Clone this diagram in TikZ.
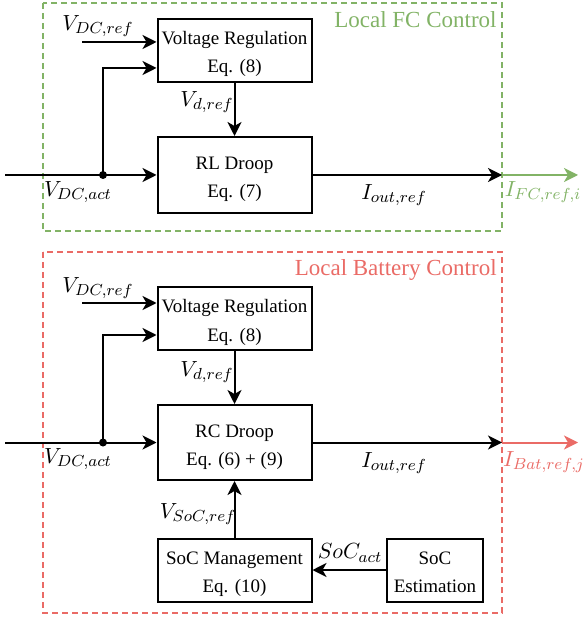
\documentclass[tikz,border=0pt]{standalone}
\usepackage{fontspec}
\setmainfont{Liberation Serif}
\usetikzlibrary{arrows.meta}
\definecolor{fcgreen}{HTML}{82B366}
\definecolor{batred}{HTML}{EA6B66}

\begin{document}
\begin{tikzpicture}[x=0.5pt, y=-0.5pt, align=center,
    blk/.style={draw, line width=1pt, minimum width=77pt, minimum height=31.5pt, inner sep=1pt,
      text height=25pt, text depth=2.5pt, font=\fontsize{9.5}{14}\selectfont},
    arr/.style={-{Stealth[length=7pt, width=7pt, inset=2pt]}, line width=1pt},
    lbl/.style={font=\fontsize{11}{13}\selectfont, inner sep=0pt},
    title/.style={font=\fontsize{11.5}{14}\selectfont, inner sep=0pt},
    region/.style={dash pattern=on 3pt off 2pt, line width=0.75pt}]
      \useasboundingbox (0,0) rectangle (582,619);

      % fuel cell part
      \draw[region, fcgreen] (43,3) rectangle (502,231);
      \node[title, text=fcgreen, anchor=east] (fctitle) at (497,20) {Local FC Control};

      \node[blk] (vreg1) at (234.5,50.5) {Voltage Regulation\\ Eq. (8)};
      \node[blk, minimum height=38pt] (droop1) at (234.5,175) {RL Droop\\ Eq. (7)};

      \coordinate (ref1) at (82,42);
      \coordinate (in1) at (5,175);
      \coordinate (dot1) at (103,175);
      \coordinate (out1) at (502,175);
      \coordinate (end1) at (578,175);

      \draw[arr] (ref1) -- (ref1 -| vreg1.west);
      \draw[line width=1pt] (in1) -- (dot1);
      \draw[arr] (dot1) -- (droop1.west);
      \draw[arr] (dot1) |- (vreg1.west |- 0,68);
      \fill (dot1) circle (4);
      \draw[arr] (vreg1) -- (droop1);
      \draw[arr] (droop1.east) -- (out1);
      \draw[arr, fcgreen] (out1) -- (end1);

      \node[lbl] (vdcref1) at (98,26) {$V_{DC,ref}$};
      \node[lbl] (vdcact1) at (78,192) {$V_{DC,act}$};
      \node[lbl] (vdref1) at (207,102) {$V_{d,ref}$};
      \node[lbl] (iout1) at (394,195) {$I_{out,ref}$};
      \node[lbl, text=fcgreen] (ifc) at (543,192) {$I_{FC,ref,i}$};

      % battery part
      \draw[region, batred] (43,252) rectangle (502,613);
      \node[title, text=batred, anchor=east] (battitle) at (497,270) {Local Battery Control};

      \node[blk] (vreg2) at (234.5,318.5) {Voltage Regulation\\ Eq. (8)};
      \node[blk, minimum height=37.5pt] (droop2) at (234.5,442.5) {RC Droop\\ Eq. (6) + (9)};
      \node[blk] (socm) at (234.5,570) {SoC Management\\ Eq. (10)};
      \node[blk, minimum width=48pt] (soce) at (435,570) {SoC\\ Estimation};

      \coordinate (ref2) at (82,303);
      \coordinate (in2) at (5,442.5);
      \coordinate (dot2) at (103,442.5);
      \coordinate (out2) at (502,442.5);
      \coordinate (end2) at (578,442.5);

      \draw[arr] (ref2) -- (ref2 -| vreg2.west);
      \draw[line width=1pt] (in2) -- (dot2);
      \draw[arr] (dot2) -- (droop2.west);
      \draw[arr] (dot2) |- (vreg2.west |- 0,335);
      \fill (dot2) circle (4);
      \draw[arr] (vreg2) -- (droop2);
      \draw[arr] (droop2.east) -- (out2);
      \draw[arr, batred] (out2) -- (end2);
      \draw[arr] (socm) -- (droop2);
      \draw[arr] (soce) -- (socm);

      \node[lbl] (vdcref2) at (98,288) {$V_{DC,ref}$};
      \node[lbl] (vdcact2) at (78,459) {$V_{DC,act}$};
      \node[lbl] (vdref2) at (207,372) {$V_{d,ref}$};
      \node[lbl] (iout2) at (394,463) {$I_{out,ref}$};
      \node[lbl, text=batred] (ibat) at (544,462) {$I_{Bat,ref,j}$};
      \node[lbl] (vsocref) at (198,514) {$V_{SoC,ref}$};
      \node[lbl] (socact) at (350,553) {$SoC_{act}$};
    \end{tikzpicture}
\end{document}
